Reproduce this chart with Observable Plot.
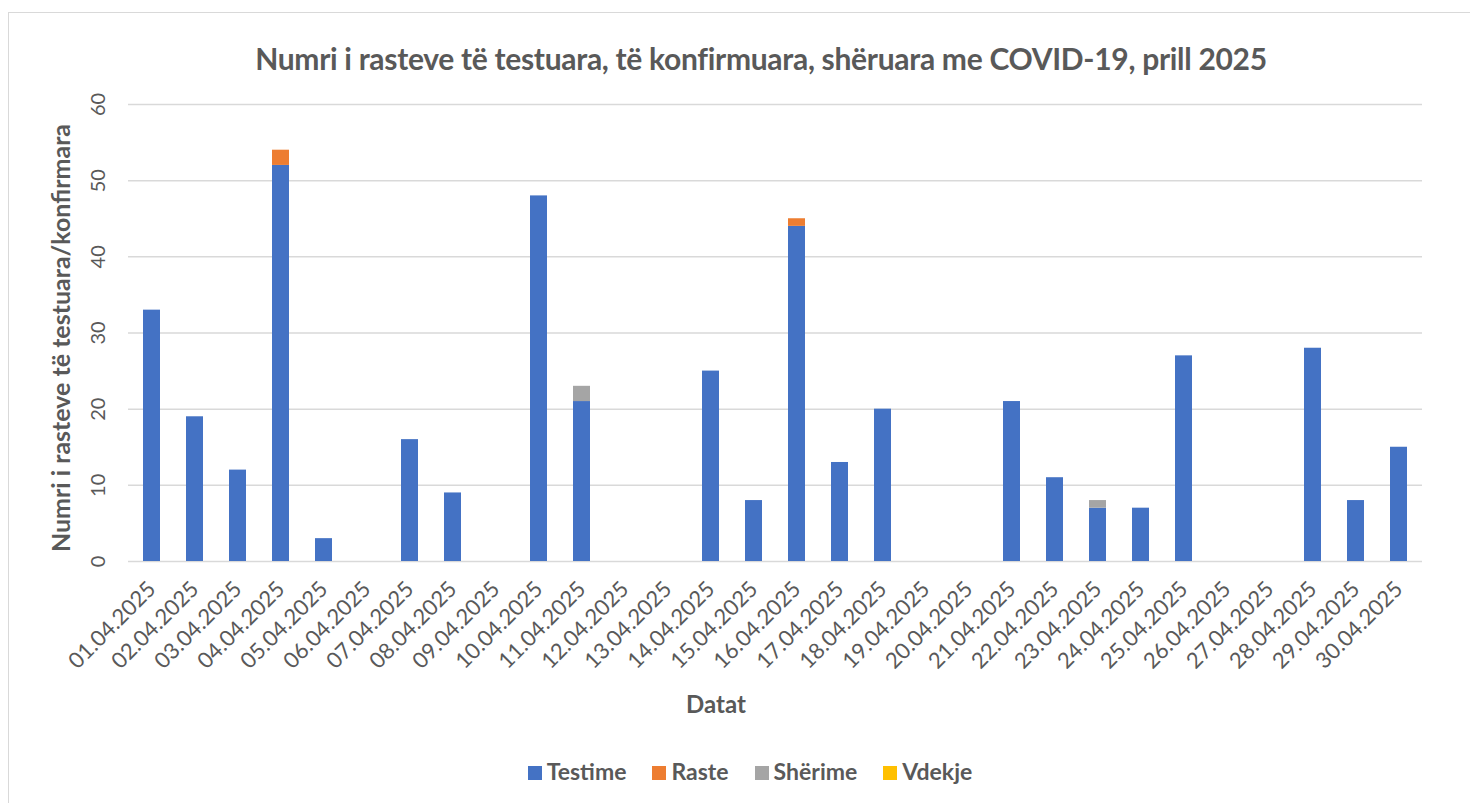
<!DOCTYPE html>
<html>
<head>
<meta charset="utf-8">
<script src="https://cdn.jsdelivr.net/npm/d3@7"></script>
<script src="https://cdn.jsdelivr.net/npm/@observablehq/plot@0.6"></script>
<style>
  html, body { margin: 0; padding: 0; background: #fff; }
  #wrap { position: relative; width: 1470px; height: 803px; overflow: hidden; font-family: Lato, "Open Sans", sans-serif; color: #595959; }
  #frame { position: absolute; left: 8px; top: 12px; width: 1500px; height: 900px; border: 1.5px solid #d9d9d9; box-sizing: border-box; }
  #title { position: absolute; left: 0; width: 1522px; top: 40px; text-align: center; font-weight: bold; font-size: 30px; letter-spacing: -0.3px; white-space: nowrap; }
  #ytitle { position: absolute; left: 60px; top: 338px; transform: translate(-50%, -50%) rotate(-90deg); white-space: nowrap; font-weight: bold; font-size: 25px; }
  #xtitle { position: absolute; left: 716px; top: 689px; transform: translateX(-50%); font-weight: bold; font-size: 24px; }
  #plot { position: absolute; left: 0; top: 80px; }
  #legend { position: absolute; left: 0; width: 1500px; top: 757px; display: flex; justify-content: center; gap: 26px; font-weight: bold; font-size: 23px; }
  #legend span.sw { display: inline-block; width: 14px; height: 14px; margin-right: 5px; vertical-align: 0px; }
</style>
</head>
<body>
<div id="wrap">
  <div id="frame"></div>
  <div id="title">Numri i rasteve të testuara, të konfirmuara, shëruara me COVID-19, prill 2025</div>
  <div id="ytitle">Numri i rasteve të testuara/konfirmara</div>
  <div id="plot"></div>
  <div id="xtitle">Datat</div>
  <div id="legend"></div>
</div>
<script>
const dates = ["01.04.2025","02.04.2025","03.04.2025","04.04.2025","05.04.2025","06.04.2025","07.04.2025","08.04.2025","09.04.2025","10.04.2025","11.04.2025","12.04.2025","13.04.2025","14.04.2025","15.04.2025","16.04.2025","17.04.2025","18.04.2025","19.04.2025","20.04.2025","21.04.2025","22.04.2025","23.04.2025","24.04.2025","25.04.2025","26.04.2025","27.04.2025","28.04.2025","29.04.2025","30.04.2025"];
const testime = [33,19,12,52,3,0,16,9,0,48,21,0,0,25,8,44,13,20,0,0,21,11,7,7,27,0,0,28,8,15];
const raste   = [0,0,0,2,0,0,0,0,0,0,0,0,0,0,0,1,0,0,0,0,0,0,0,0,0,0,0,0,0,0];
const sherime = [0,0,0,0,0,0,0,0,0,0,2,0,0,0,0,0,0,0,0,0,0,0,1,0,0,0,0,0,0,0];
const vdekje  = [0,0,0,0,0,0,0,0,0,0,0,0,0,0,0,0,0,0,0,0,0,0,0,0,0,0,0,0,0,0];
const seriesNames = ["Testime","Raste","Shërime","Vdekje"];
const seriesColors = ["#4472C4","#ED7D31","#A5A5A5","#FFC000"];
const yTicks = [0,10,20,30,40,50,60];

const seriesValues = [testime, raste, sherime, vdekje];
const rows = [];
dates.forEach((d, i) => {
  seriesNames.forEach((s, k) => rows.push({date: d, series: s, value: seriesValues[k][i]}));
});

const chart = Plot.plot({
  width: 1470,
  height: 660,
  marginLeft: 128,
  marginRight: 48,
  marginTop: 24,
  marginBottom: 179,
  style: {fontFamily: "Lato, 'Open Sans', sans-serif", fontSize: "22px", color: "#595959", background: "transparent"},
  x: {domain: dates, paddingInner: 0.6, paddingOuter: 0.3, label: null},
  y: {domain: [0, 60], label: null},
  color: {domain: seriesNames, range: seriesColors},
  marks: [
    Plot.gridY(yTicks, {stroke: "#d9d9d9", strokeOpacity: 1, strokeWidth: 1.5}),
    Plot.barY(rows, {x: "date", y: "value", fill: "series", order: seriesNames}),
    Plot.axisY(yTicks, {tickSize: 0, tickPadding: 24, tickRotate: -90, fontSize: 20, label: null, fill: "#595959"}),
    Plot.axisX({tickSize: 0, tickPadding: 24, tickRotate: -45, label: null, fill: "#595959"})
  ]
});
document.getElementById("plot").appendChild(chart);

const legend = document.getElementById("legend");
seriesNames.forEach((s, k) => {
  const item = document.createElement("div");
  item.innerHTML = `<span class="sw" style="background:${seriesColors[k]}"></span>${s}`;
  legend.appendChild(item);
});
</script>
</body>
</html>
